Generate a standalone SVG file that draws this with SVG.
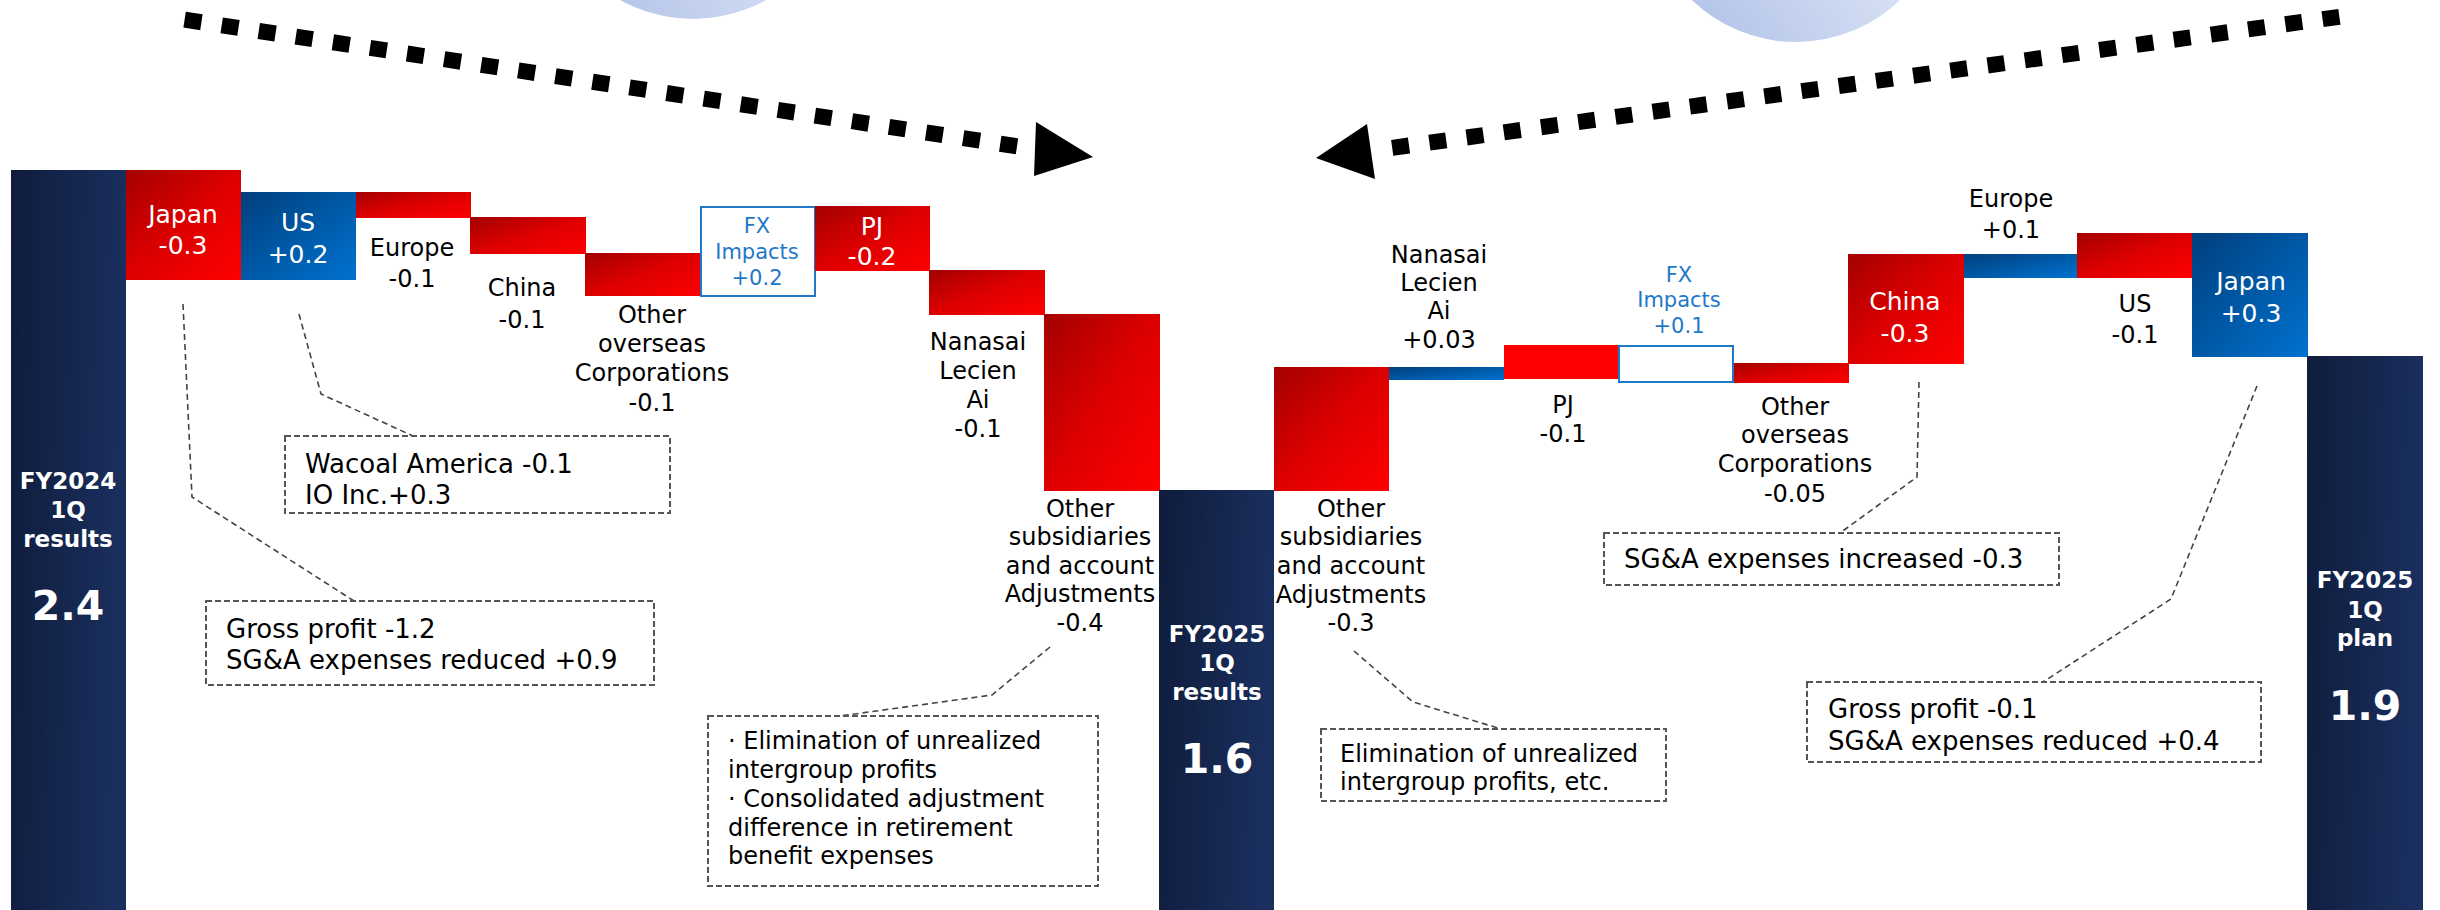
<svg xmlns="http://www.w3.org/2000/svg" width="2440" height="910" viewBox="0 0 2440 910">
<defs>
<linearGradient id="gNavy" x1="0" y1="0" x2="1" y2="0.15">
<stop offset="0" stop-color="#0f1c3b"/><stop offset="1" stop-color="#1a2f5e"/>
</linearGradient>
<linearGradient id="gRed" x1="0" y1="0" x2="1" y2="1">
<stop offset="0" stop-color="#a30000"/><stop offset="0.5" stop-color="#dd0000"/><stop offset="1" stop-color="#ff0000"/>
</linearGradient>
<linearGradient id="gBlue" x1="0" y1="0" x2="1" y2="1">
<stop offset="0" stop-color="#003f7d"/><stop offset="1" stop-color="#0072cf"/>
</linearGradient>
<linearGradient id="gCircle" x1="0" y1="1" x2="1" y2="0.3">
<stop offset="0" stop-color="#a9bce6"/><stop offset="1" stop-color="#f0f4fb"/>
</linearGradient>
<style>
text{font-family:"DejaVu Sans","Verdana",sans-serif;}
.lbl{font-size:24px;fill:#000;text-anchor:middle;}
.wl{font-size:25px;fill:#fff;text-anchor:middle;}
.fx{font-size:21px;fill:#1f78c8;text-anchor:middle;}
.tot{font-size:23px;font-weight:bold;fill:#fff;text-anchor:middle;}
.big{font-size:41px;font-weight:bold;fill:#fff;text-anchor:middle;}
.note{font-size:26px;fill:#000;}
.note2{font-size:24px;fill:#000;}
.box{fill:#fff;stroke:#555;stroke-width:2;stroke-dasharray:6 3;}
.lead{fill:none;stroke:#444;stroke-width:1.6;stroke-dasharray:6 4;}
.dots{fill:none;stroke:#000;stroke-width:16;}
</style>
</defs>
<rect width="2440" height="910" fill="#fff"/>

<g id="decor">
<circle cx="693" cy="-131" r="150" fill="url(#gCircle)"/>
<circle cx="1796" cy="-108" r="150" fill="url(#gCircle)"/>
</g>

<g id="arrows">
<line class="dots" x1="184.6" y1="19.7" x2="1017" y2="146.3" stroke-dasharray="17 20.5"/>
<polygon points="1036,122 1093,157 1034,176" fill="#000"/>
<line class="dots" x1="2339.4" y1="16.8" x2="1392.2" y2="147.8" stroke-dasharray="17 20.57"/>
<polygon points="1367,124 1316,158 1375,179" fill="#000"/>
</g>

<g id="connectors">
<polyline class="lead" points="183,304 192,497 354,601"/>
<polyline class="lead" points="299,314 321,394 413,436"/>
<polyline class="lead" points="1050,647 992,695 840,716"/>
<polyline class="lead" points="1354,651 1413,702 1501,729"/>
<polyline class="lead" points="1919,382 1917,477 1840,533"/>
<polyline class="lead" points="2257,386 2171,599 2043,682"/>
</g>

<g id="fy2024">
<rect x="11" y="170" width="115" height="740" fill="url(#gNavy)"/>
<text class="tot" x="68" y="489">FY2024</text>
<text class="tot" x="68" y="518">1Q</text>
<text class="tot" x="68" y="547">results</text>
<text class="big" x="68" y="620">2.4</text>
</g>

<g id="l-japan">
<rect x="126" y="170" width="115" height="110" fill="url(#gRed)"/>
<text class="wl" x="183" y="223">Japan</text>
<text class="wl" x="183" y="254">-0.3</text>
</g>
<g id="l-us">
<rect x="241" y="192" width="115" height="88" fill="url(#gBlue)"/>
<text class="wl" x="298" y="231">US</text>
<text class="wl" x="298" y="263">+0.2</text>
</g>
<g id="l-europe">
<rect x="356" y="192" width="115" height="26" fill="url(#gRed)"/>
<text class="lbl" x="412" y="256">Europe</text>
<text class="lbl" x="412" y="287">-0.1</text>
</g>
<g id="l-china">
<rect x="470" y="217" width="116" height="37" fill="url(#gRed)"/>
<text class="lbl" x="522" y="296">China</text>
<text class="lbl" x="522" y="328">-0.1</text>
</g>
<g id="l-other-overseas">
<rect x="585" y="253" width="116" height="43" fill="url(#gRed)"/>
<text class="lbl" x="652" y="323">Other</text>
<text class="lbl" x="652" y="352">overseas</text>
<text class="lbl" x="652" y="381">Corporations</text>
<text class="lbl" x="652" y="411">-0.1</text>
</g>
<g id="l-fx">
<rect x="701" y="207" width="114" height="89" fill="#fff" stroke="#1f78c8" stroke-width="2"/>
<text class="fx" x="757" y="233">FX</text>
<text class="fx" x="757" y="259">Impacts</text>
<text class="fx" x="757" y="285">+0.2</text>
</g>
<g id="l-pj">
<rect x="815" y="206" width="115" height="65" fill="url(#gRed)"/>
<text class="wl" x="872" y="235">PJ</text>
<text class="wl" x="872" y="265">-0.2</text>
</g>
<g id="l-nanasai">
<rect x="929" y="270" width="116" height="45" fill="url(#gRed)"/>
<text class="lbl" x="978" y="350">Nanasai</text>
<text class="lbl" x="978" y="379">Lecien</text>
<text class="lbl" x="978" y="408">Ai</text>
<text class="lbl" x="978" y="437">-0.1</text>
</g>
<g id="l-other-subs">
<rect x="1044" y="314" width="116" height="177" fill="url(#gRed)"/>
<text class="lbl" x="1080" y="517">Other</text>
<text class="lbl" x="1080" y="545">subsidiaries</text>
<text class="lbl" x="1080" y="574">and account</text>
<text class="lbl" x="1080" y="602">Adjustments</text>
<text class="lbl" x="1080" y="631">-0.4</text>
</g>

<g id="fy2025-results">
<rect x="1159" y="490" width="115" height="420" fill="url(#gNavy)"/>
<text class="tot" x="1217" y="642">FY2025</text>
<text class="tot" x="1217" y="671">1Q</text>
<text class="tot" x="1217" y="700">results</text>
<text class="big" x="1217" y="773">1.6</text>
</g>

<g id="r-other-subs">
<rect x="1274" y="367" width="115" height="124" fill="url(#gRed)"/>
<text class="lbl" x="1351" y="517">Other</text>
<text class="lbl" x="1351" y="545">subsidiaries</text>
<text class="lbl" x="1351" y="574">and account</text>
<text class="lbl" x="1351" y="603">Adjustments</text>
<text class="lbl" x="1351" y="631">-0.3</text>
</g>
<g id="r-nanasai">
<rect x="1389" y="367" width="115" height="13" fill="url(#gBlue)"/>
<text class="lbl" x="1439" y="263">Nanasai</text>
<text class="lbl" x="1439" y="291">Lecien</text>
<text class="lbl" x="1439" y="319">Ai</text>
<text class="lbl" x="1439" y="348">+0.03</text>
</g>
<g id="r-pj">
<rect x="1504" y="345" width="114" height="34" fill="#ff0000"/>
<text class="lbl" x="1563" y="413">PJ</text>
<text class="lbl" x="1563" y="442">-0.1</text>
</g>
<g id="r-fx">
<rect x="1619" y="346" width="114" height="36" fill="#fff" stroke="#1f78c8" stroke-width="2"/>
<text class="fx" x="1679" y="282">FX</text>
<text class="fx" x="1679" y="307">Impacts</text>
<text class="fx" x="1679" y="333">+0.1</text>
</g>
<g id="r-other-overseas">
<rect x="1734" y="363" width="115" height="20" fill="url(#gRed)"/>
<text class="lbl" x="1795" y="415">Other</text>
<text class="lbl" x="1795" y="443">overseas</text>
<text class="lbl" x="1795" y="472">Corporations</text>
<text class="lbl" x="1795" y="502">-0.05</text>
</g>
<g id="r-china">
<rect x="1848" y="254" width="116" height="110" fill="url(#gRed)"/>
<text class="wl" x="1905" y="310">China</text>
<text class="wl" x="1905" y="342">-0.3</text>
</g>
<g id="r-europe">
<rect x="1964" y="254" width="113" height="24" fill="url(#gBlue)"/>
<text class="lbl" x="2011" y="207">Europe</text>
<text class="lbl" x="2011" y="238">+0.1</text>
</g>
<g id="r-us">
<rect x="2077" y="233" width="115" height="45" fill="url(#gRed)"/>
<text class="lbl" x="2135" y="312">US</text>
<text class="lbl" x="2135" y="343">-0.1</text>
</g>
<g id="r-japan">
<rect x="2192" y="233" width="116" height="124" fill="url(#gBlue)"/>
<text class="wl" x="2251" y="290">Japan</text>
<text class="wl" x="2251" y="322">+0.3</text>
</g>

<g id="fy2025-plan">
<rect x="2307" y="356" width="116" height="554" fill="url(#gNavy)"/>
<text class="tot" x="2365" y="588">FY2025</text>
<text class="tot" x="2365" y="618">1Q</text>
<text class="tot" x="2365" y="646">plan</text>
<text class="big" x="2365" y="720">1.9</text>
</g>

<g id="note-us">
<rect class="box" x="285" y="436" width="385" height="77"/>
<text class="note" x="305" y="473">Wacoal America -0.1</text>
<text class="note" x="305" y="504">IO Inc.+0.3</text>
</g>
<g id="note-japan-left">
<rect class="box" x="206" y="601" width="448" height="84"/>
<text class="note" x="226" y="638">Gross profit -1.2</text>
<text class="note" x="226" y="669">SG&amp;A expenses reduced +0.9</text>
</g>
<g id="note-adj-left">
<rect class="box" x="708" y="716" width="390" height="170"/>
<text class="note2" x="728" y="749">· Elimination of unrealized</text>
<text class="note2" x="728" y="778">intergroup profits</text>
<text class="note2" x="728" y="807">· Consolidated adjustment</text>
<text class="note2" x="728" y="836">difference in retirement</text>
<text class="note2" x="728" y="864">benefit expenses</text>
</g>
<g id="note-adj-right">
<rect class="box" x="1321" y="729" width="345" height="72"/>
<text class="note2" x="1340" y="762">Elimination of unrealized</text>
<text class="note2" x="1340" y="790">intergroup profits, etc.</text>
</g>
<g id="note-china">
<rect class="box" x="1604" y="533" width="455" height="52"/>
<text class="note" x="1624" y="568">SG&amp;A expenses increased -0.3</text>
</g>
<g id="note-japan-right">
<rect class="box" x="1807" y="682" width="454" height="80"/>
<text class="note" x="1828" y="718">Gross profit -0.1</text>
<text class="note" x="1828" y="750">SG&amp;A expenses reduced +0.4</text>
</g>
</svg>
